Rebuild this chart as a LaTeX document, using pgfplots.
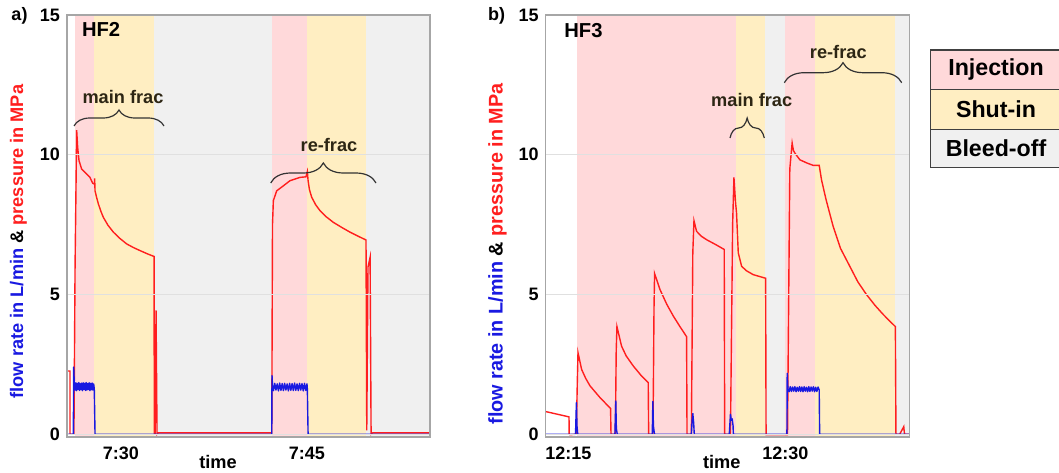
\documentclass[border=0pt]{standalone}
\usepackage{fontspec}
\setmainfont{Liberation Sans}
\usepackage{pgfplots}
\pgfplotsset{compat=1.18}
\usetikzlibrary{decorations.pathreplacing}

\definecolor{injC}{RGB}{255,217,218}
\definecolor{shutC}{RGB}{255,238,194}
\definecolor{bleedC}{RGB}{240,240,240}
\definecolor{presC}{RGB}{255,30,30}
\definecolor{flowC}{RGB}{25,25,225}
\definecolor{annC}{RGB}{45,38,20}

\pgfplotsset{
  panel/.style={
    scale only axis, height=211pt, anchor=south west,
    ymin=-0.1, ymax=15, ytick={0,5,10,15},
    ymajorgrids, grid style={black!12, line width=0.4pt},
    axis line style={black!35, line width=0.6pt},
    major tick length=0pt,
    tick label style={font=\bfseries\fontsize{9}{10}\selectfont,
      /pgf/number format/assume math mode=true},
    xticklabel style={yshift=-1.5pt},
    axis on top,
  },
  bg/.style={draw=none, fill=#1, forget plot},
  pres/.style={color=presC, line width=0.7pt, mark=none},
  flow/.style={color=flowC, line width=0.7pt, mark=none, line join=round},
}

\begin{document}
\begin{tikzpicture}[x=0.5pt,y=0.5pt]

% ---- a) HF2
\begin{axis}[panel, at={(33.5pt,17.5pt)}, width=181.5pt,
  xmin=25.65, xmax=54.92, xtick={30,45}, xticklabels={7:30,7:45}]
\addplot[bg=injC]   coordinates {(26.30,-1) (26.30,16) (27.85,16) (27.85,-1)} --cycle;
\addplot[bg=shutC]  coordinates {(27.85,-1) (27.85,16) (32.67,16) (32.67,-1)} --cycle;
\addplot[bg=bleedC] coordinates {(32.67,-1) (32.67,16) (42.16,16) (42.16,-1)} --cycle;
\addplot[bg=injC]   coordinates {(42.16,-1) (42.16,16) (44.98,16) (44.98,-1)} --cycle;
\addplot[bg=shutC]  coordinates {(44.98,-1) (44.98,16) (49.76,16) (49.76,-1)} --cycle;
\addplot[bg=bleedC] coordinates {(49.76,-1) (49.76,16) (55.50,16) (55.50,-1)} --cycle;

\addplot[pres] coordinates {
 (25.65,2.26) (25.89,2.26) (25.89,0) (26.21,0) (26.30,6.0) (26.43,10.88)
 (26.51,10.26) (26.62,9.79) (26.83,9.49) (27.24,9.31) (27.50,9.19) (27.72,8.98)
 (27.86,8.95) (27.88,9.15) (27.91,8.71) (28.05,8.45) (28.18,8.24) (28.38,7.98)
 (28.58,7.76) (28.95,7.48) (29.39,7.23) (29.90,7.01) (30.46,6.81) (31.00,6.68)
 (31.54,6.57) (32.10,6.46) (32.67,6.36) (32.69,0) (32.76,0) (32.83,4.43)
 (32.91,0) (33.00,0.05) (42.16,0.05) (42.22,7.5) (42.29,8.36) (42.56,8.71)
 (43.10,8.89) (43.63,9.07) (44.44,9.19) (44.92,9.21) (45.03,9.40) (45.09,9.07)
 (45.20,8.75) (45.38,8.48) (45.70,8.21) (46.05,8.00) (46.55,7.78) (47.13,7.58)
 (47.80,7.40) (48.47,7.23) (49.10,7.09) (49.76,6.95) (49.82,0.14)
 (49.92,5.98) (50.09,6.33) (50.17,0) (50.30,0.05) (54.92,0.05)};

\addplot[flow] coordinates {
 (25.65,0) (26.16,0) (26.19,2.40) (26.24,1.80) (26.30,1.58) (26.36,1.84)
 (26.42,1.56) (26.48,1.82) (26.54,1.60) (26.60,1.85) (26.66,1.57) (26.72,1.81)
 (26.78,1.59) (26.84,1.83) (26.90,1.56) (26.96,1.84) (27.02,1.60) (27.08,1.82)
 (27.14,1.57) (27.20,1.85) (27.26,1.58) (27.32,1.81) (27.38,1.60) (27.44,1.84)
 (27.50,1.56) (27.56,1.82) (27.62,1.59) (27.68,1.83) (27.74,1.58) (27.80,1.80)
 (27.85,1.62) (27.91,0) (42.16,0) (42.18,2.10) (42.22,1.75) (42.30,1.56)
 (42.40,1.82) (42.50,1.58) (42.60,1.80) (42.70,1.55) (42.80,1.83) (42.90,1.57)
 (43.00,1.81) (43.10,1.56) (43.20,1.82) (43.30,1.58) (43.40,1.80) (43.50,1.55)
 (43.60,1.82) (43.70,1.57) (43.80,1.81) (43.90,1.56) (44.00,1.83) (44.10,1.57)
 (44.20,1.80) (44.30,1.56) (44.40,1.82) (44.50,1.58) (44.60,1.81) (44.70,1.55)
 (44.80,1.82) (44.90,1.57) (45.00,1.80) (45.03,1.62) (45.09,0) (54.92,0)};
\end{axis}

% ---- b) HF3
\begin{axis}[panel, at={(272.85pt,17.5pt)}, width=182pt,
  xmin=13.44, xmax=38.58, xtick={15,30}, xticklabels={12:15,12:30}]
\addplot[bg=injC]   coordinates {(15.58,-1) (15.58,16) (26.55,16) (26.55,-1)} --cycle;
\addplot[bg=shutC]  coordinates {(26.55,-1) (26.55,16) (28.57,16) (28.57,-1)} --cycle;
\addplot[bg=bleedC] coordinates {(28.57,-1) (28.57,16) (30.00,16) (30.00,-1)} --cycle;
\addplot[bg=injC]   coordinates {(30.00,-1) (30.00,16) (32.07,16) (32.07,-1)} --cycle;
\addplot[bg=shutC]  coordinates {(32.07,-1) (32.07,16) (37.59,16) (37.59,-1)} --cycle;
\addplot[bg=bleedC] coordinates {(37.59,-1) (37.59,16) (39.50,16) (39.50,-1)} --cycle;

\addplot[pres] coordinates {
 (13.44,0.81) (15.05,0.62) (15.06,0) (15.12,-0.02) (15.55,0) (15.62,1.8)
 (15.67,2.92) (15.92,2.32) (16.20,2.00) (16.50,1.73) (17.19,1.31) (17.92,0.92)
 (17.95,0) (18.25,0) (18.31,3.0) (18.36,3.85) (18.68,3.15) (19.00,2.80)
 (19.49,2.44) (20.00,2.12) (20.52,1.85) (20.55,0) (20.85,0) (20.92,4.5)
 (20.96,5.75) (21.33,5.18) (21.80,4.65) (22.25,4.23) (22.70,3.86) (23.17,3.49)
 (23.20,0) (23.50,0) (23.60,6.5) (23.68,7.64) (23.86,7.26) (24.20,7.08)
 (24.55,6.96) (25.20,6.78) (25.77,6.61) (25.80,0) (26.20,0) (26.35,7.5)
 (26.44,9.19) (26.55,8.30) (26.62,7.92) (26.74,6.49) (26.97,6.01) (27.30,5.85)
 (27.77,5.71) (28.63,5.58) (28.66,-0.02) (30.14,-0.02) (30.30,9.5) (30.46,10.42)
 (30.55,10.15) (30.65,10.06) (30.99,9.82) (31.50,9.70) (31.91,9.62) (32.33,9.62)
 (32.49,9.10) (32.80,8.40) (33.29,7.44) (33.80,6.65) (34.44,6.01) (35.00,5.45)
 (35.59,5.00) (36.20,4.60) (36.74,4.29) (37.20,4.05) (37.59,3.85) (37.63,0)
 (37.89,0) (38.17,0.27) (38.22,0) (38.58,0)};

\addplot[flow] coordinates {
 (13.44,0) (15.50,0) (15.56,1.13) (15.60,0.30) (15.65,0) (18.22,0)
 (18.28,1.19) (18.32,0.20) (18.38,0) (20.80,0) (20.84,1.17) (20.88,0.30)
 (20.95,0) (23.50,0) (23.56,0.55) (23.60,0.74) (23.66,0.40) (23.70,0)
 (26.12,0) (26.20,0.71) (26.26,0.50) (26.32,0.55) (26.38,0.30) (26.40,0)
 (30.10,0) (30.12,2.18) (30.17,1.62) (30.25,1.52) (30.33,1.70) (30.41,1.53)
 (30.49,1.69) (30.57,1.54) (30.65,1.70) (30.73,1.52) (30.81,1.68) (30.89,1.54)
 (30.97,1.70) (31.05,1.53) (31.13,1.69) (31.21,1.52) (31.29,1.70) (31.37,1.54)
 (31.45,1.68) (31.53,1.52) (31.61,1.70) (31.69,1.53) (31.77,1.69) (31.85,1.54)
 (31.93,1.70) (32.01,1.52) (32.09,1.68) (32.17,1.53) (32.25,1.69) (32.33,1.58)
 (32.36,0) (38.58,0)};
\end{axis}

% labels
\node[font=\bfseries\fontsize{9}{10}\selectfont] at (19.5,456) {a)};
\node[font=\bfseries\fontsize{9}{10}\selectfont] at (496.5,456) {b)};
\node[anchor=west, font=\bfseries\fontsize{10.1}{12}\selectfont] at (75,443) {HF2};
\node[anchor=west, font=\bfseries\fontsize{10.1}{12}\selectfont] at (557.3,441.3) {HF3};
\node[rotate=90, font=\bfseries\fontsize{9.1}{11}\selectfont] at (18.5,230.5)
  {\textcolor{flowC}{flow rate in L/min} \& \textcolor{presC}{pressure in MPa}};
\node[rotate=90, font=\bfseries\fontsize{9.9}{12}\selectfont] at (497.5,218)
  {\textcolor{flowC}{flow rate in L/min} \& \textcolor{presC}{pressure in MPa}};
\node[font=\bfseries\fontsize{9.1}{11}\selectfont] at (218,10) {time};
\node[font=\bfseries\fontsize{9.1}{11}\selectfont] at (721.7,10) {time};

% braces
\begin{scope}[draw=black!80, line width=0.6pt]
\draw[decorate, decoration={brace, amplitude=8pt}] (74,346) -- (164,346);
\draw[decorate, decoration={brace, amplitude=10pt}] (270.7,289) -- (376,289);
\draw[decorate, decoration={brace, amplitude=10pt}] (730,334) -- (764.3,334);
\draw[decorate, decoration={brace, amplitude=10pt}] (784.3,389.3) -- (901.7,389.3);
\end{scope}
\begin{scope}[every node/.style={font=\bfseries\fontsize{9.1}{11}\selectfont, text=annC}]
\node at (123,375) {main frac};
\node at (329,327) {re-frac};
\node at (751.7,372) {main frac};
\node at (838.3,420.3) {re-frac};
\end{scope}

% legend box
\begin{scope}[draw=black!75, line width=0.6pt]
\filldraw[fill=injC]   (930.7,422)   rectangle (1075,382.7);
\filldraw[fill=shutC]  (930.7,382.7) rectangle (1075,342.7);
\filldraw[fill=bleedC] (930.7,342.7) rectangle (1075,304.7);
\end{scope}
\begin{scope}[every node/.style={font=\bfseries\fontsize{11.6}{13}\selectfont}]
\node at (996,402) {Injection};
\node at (996,362.5) {Shut-in};
\node at (996,323.5) {Bleed-off};
\end{scope}

\pgfresetboundingbox
\path[use as bounding box] (0,0) rectangle (1059,472);
\end{tikzpicture}
\end{document}
